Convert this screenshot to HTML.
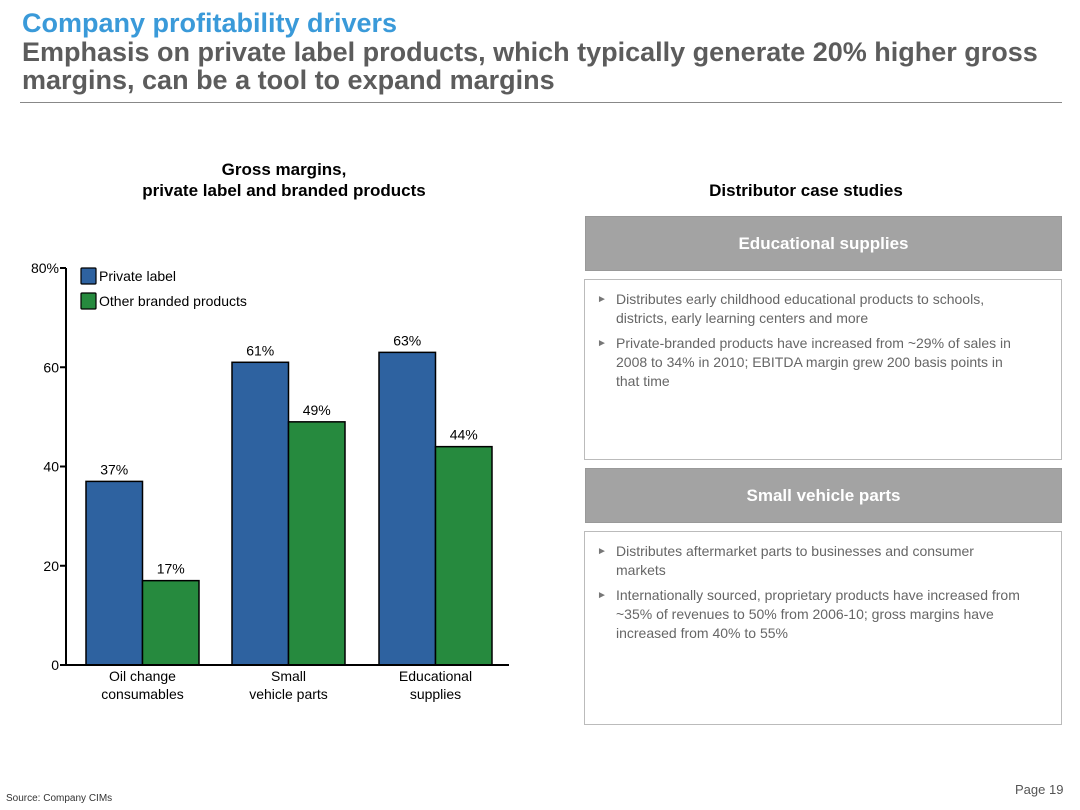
<!DOCTYPE html>
<html><head><meta charset="utf-8"><style>
body{margin:0;width:1080px;height:810px;background:#fff;font-family:"Liberation Sans",Arial,sans-serif;position:relative;overflow:hidden}
.a{position:absolute}
.hdr{left:585px;width:475px;height:53px;background:#a3a3a3;color:#fff;font-weight:bold;font-size:17px;text-align:center;line-height:53px;border:1px solid #999}
.box{left:584px;width:476px;border:1px solid #bbb;color:#666;font-size:14px;line-height:19px}
.box ul{margin:0;padding:10px 37px 0 31px;list-style:none}
.box li{position:relative;margin-bottom:6px}
.box li:before{content:"►";position:absolute;left:-19px;font-size:10px;color:#777}
</style></head><body>
<div class="a" style="left:22px;top:8px;font-size:27px;font-weight:bold;color:#3a9ad9">Company profitability drivers</div>
<div class="a" style="left:22px;top:38px;font-size:27px;font-weight:bold;color:#5c5c5c;line-height:28px;width:1050px">Emphasis on private label products, which typically generate 20% higher gross margins, can be a tool to expand margins</div>
<div class="a" style="left:20px;top:102px;width:1042px;height:1px;background:#888"></div>
<div class="a" style="left:84px;top:159px;width:400px;text-align:center;font-size:17px;font-weight:bold;line-height:21px">Gross margins,<br>private label and branded products</div>
<div class="a" style="left:580px;top:181px;width:452px;text-align:center;font-size:17px;font-weight:bold">Distributor case studies</div>
<svg class="a" style="left:0;top:0" width="560" height="720" id="chart"></svg>
<div class="a hdr" style="top:216px">Educational supplies</div>
<div class="a box" style="top:279px;height:179px"><ul>
<li>Distributes early childhood educational products to schools, districts, early learning centers and more</li>
<li>Private-branded products have increased from ~29% of sales in 2008 to 34% in 2010; EBITDA margin grew 200 basis points in that time</li></ul></div>
<div class="a hdr" style="top:468px">Small vehicle parts</div>
<div class="a box" style="top:531px;height:192px"><ul>
<li>Distributes aftermarket parts to businesses and consumer markets</li>
<li>Internationally sourced, proprietary products have increased from ~35% of revenues to 50% from 2006-10; gross margins have increased from 40% to 55%</li></ul></div>
<div class="a" style="left:6px;top:793px;font-size:10px;color:#333">Source: Company CIMs</div>
<div class="a" style="left:1015px;top:782px;font-size:13px;color:#555">Page 19</div>
<script>
const categories=[["Oil change","consumables"],["Small","vehicle parts"],["Educational","supplies"]];
const privateLabel=[37,61,63];
const otherBranded=[17,49,44];
const ticks=[0,20,40,60,80];
const tickLabels=["0","20","40","60","80%"];
const svg=document.getElementById('chart');const NS="http://www.w3.org/2000/svg";
function y(v){return 665-v*(665-268)/80;}
function el(t,a,txt){const e=document.createElementNS(NS,t);for(const k in a)e.setAttribute(k,a[k]);if(txt!=null)e.textContent=txt;svg.appendChild(e);return e;}
const gx=[86,232,379],bw=56.5;
ticks.forEach((t,i)=>{
 const tk=el('line',{x1:60,x2:66,y1:y(t),y2:y(t),stroke:'#000','stroke-width':2});
 
 const l=el('text',{x:59,y:y(t)+5,'text-anchor':'end','font-size':14,fill:'#000'},tickLabels[i]);
 
});
categories.forEach((c,i)=>{
 [[privateLabel[i],'#2e62a0',gx[i]],[otherBranded[i],'#268a3e',gx[i]+bw]].forEach((d,j)=>{
  const r=el('rect',{x:d[2],y:y(d[0]),width:bw,height:y(0)-y(d[0]),fill:d[1],stroke:'#000','stroke-width':1.5});
  
  const t=el('text',{x:d[2]+bw/2,y:y(d[0])-7,'text-anchor':'middle','font-size':14},d[0]+'%');
  
 });
 c.forEach((s,k)=>{const t=el('text',{x:gx[i]+bw,y:681+k*18,'text-anchor':'middle','font-size':14},s);
 });
});
const ax=el('line',{x1:66,x2:66,y1:y(80),y2:y(0),stroke:'#000','stroke-width':2});

const bx=el('line',{x1:60,x2:509,y1:y(0),y2:y(0),stroke:'#000','stroke-width':2});

[['Private label','#2e62a0',268],['Other branded products','#268a3e',293]].forEach(d=>{
 const r=el('rect',{x:81,y:d[2],width:15,height:16,fill:d[1],stroke:'#000','stroke-width':1.2,rx:1});
 
 const t=el('text',{x:99,y:d[2]+13,'font-size':14},d[0]);
 
});
</script>
</body></html>
